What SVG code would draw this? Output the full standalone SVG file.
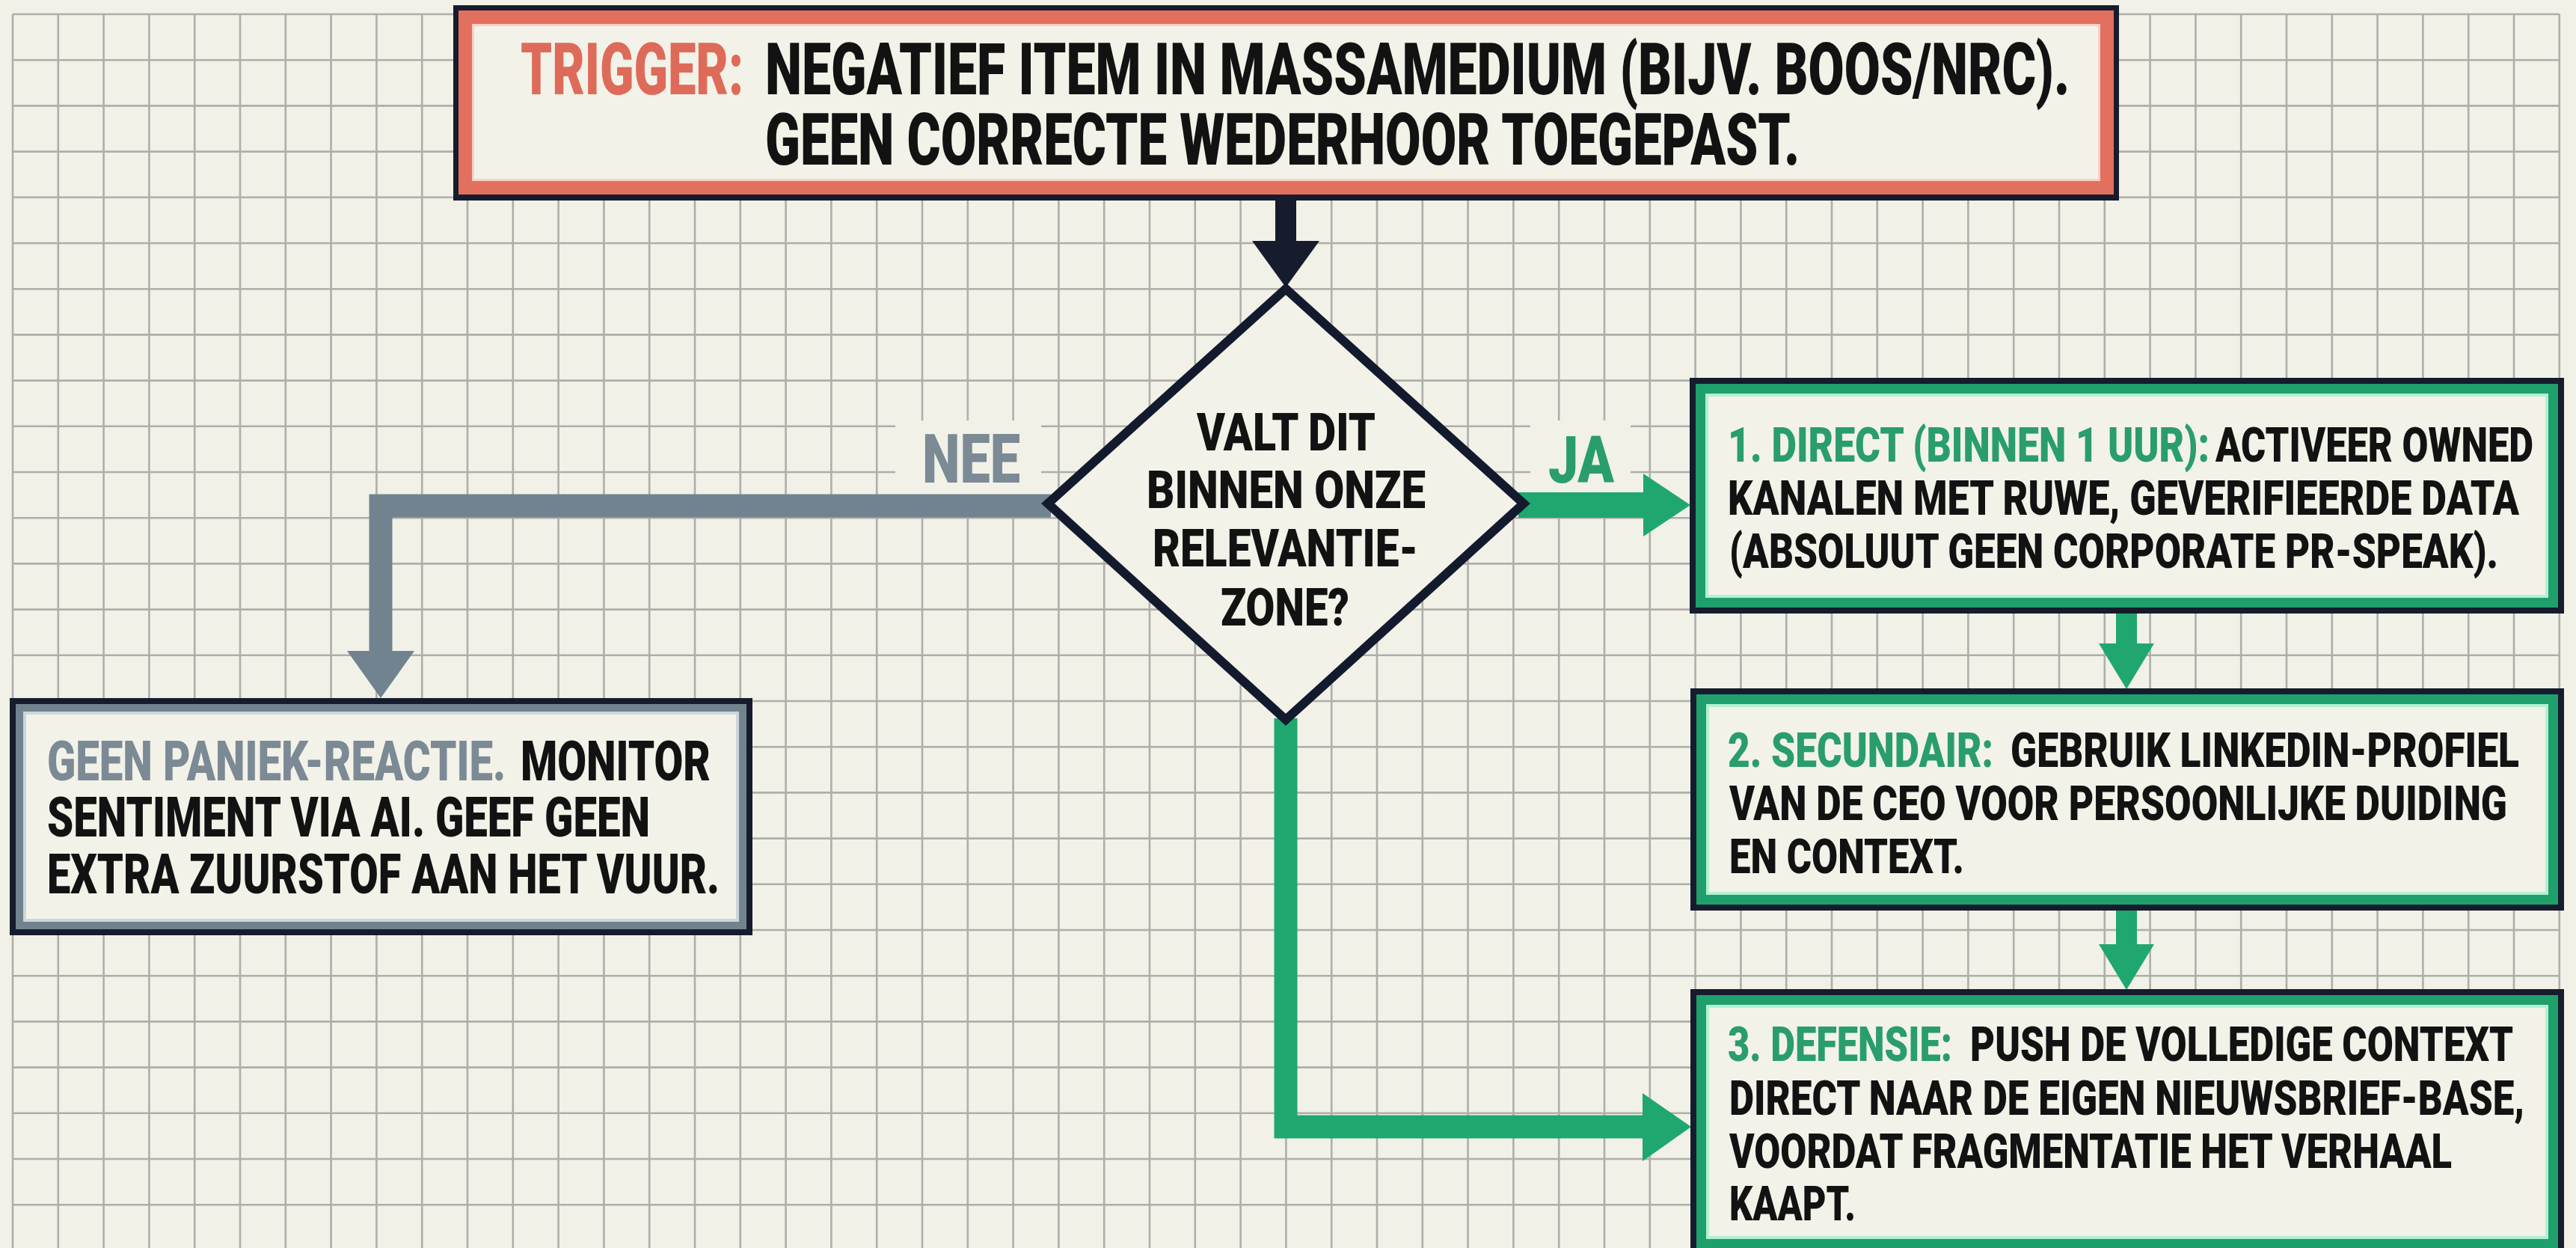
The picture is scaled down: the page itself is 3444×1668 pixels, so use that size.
<svg xmlns="http://www.w3.org/2000/svg" width="3444" height="1668" viewBox="0 0 3444 1668">
<style>
.t{font-family:Roboto,"Liberation Sans",sans-serif;font-weight:900;fill:#121212}
.dk{fill:#161c2d}
.cr{fill:#e2705e}
.pk{fill:#f6d0c6}
.gr{fill:#1f9f6c}
.mi{fill:#b2f0d2}
.sl{fill:#71838f}
.lg{fill:#cdd5dc}
.bg{fill:#f3f2e8}
.lc{fill:#de6b59}
.lgr{fill:#2a9d6d}
.lsl{fill:#7b8a95}
.grid{stroke:#aeaeaa;stroke-width:2.6;fill:none}
</style>
<rect x="0" y="0" width="3444" height="1668" fill="#f1f1e7"/>
<g id="grid">
<path class="grid" d="M17 19V1668M77.8 19V1668M138.6 19V1668M199.4 19V1668M260.2 19V1668M321 19V1668M381.8 19V1668M442.6 19V1668M503.4 19V1668M564.2 19V1668M625 19V1668M685.8 19V1668M746.6 19V1668M807.4 19V1668M868.2 19V1668M929 19V1668M989.8 19V1668M1050.6 19V1668M1111.4 19V1668M1172.2 19V1668M1233 19V1668M1293.8 19V1668M1354.6 19V1668M1415.4 19V1668M1476.2 19V1668M1537 19V1668M1597.8 19V1668M1658.6 19V1668M1719.4 19V1668M1780.2 19V1668M1841 19V1668M1901.8 19V1668M1962.6 19V1668M2023.4 19V1668M2084.2 19V1668M2145 19V1668M2205.8 19V1668M2266.6 19V1668M2327.4 19V1668M2388.2 19V1668M2449 19V1668M2509.8 19V1668M2570.6 19V1668M2631.4 19V1668M2692.2 19V1668M2753 19V1668M2813.8 19V1668M2874.6 19V1668M2935.4 19V1668M2996.2 19V1668M3057 19V1668M3117.8 19V1668M3178.6 19V1668M3239.4 19V1668M3300.2 19V1668M3361 19V1668M3421.8 19V1668"/>
<path class="grid" d="M17 19H3422M17 80.2H3422M17 141.4H3422M17 202.6H3422M17 263.8H3422M17 325H3422M17 386.2H3422M17 447.4H3422M17 508.6H3422M17 569.8H3422M17 631H3422M17 692.2H3422M17 753.4H3422M17 814.6H3422M17 875.8H3422M17 937H3422M17 998.2H3422M17 1059.4H3422M17 1120.6H3422M17 1181.8H3422M17 1243H3422M17 1304.2H3422M17 1365.4H3422M17 1426.6H3422M17 1487.8H3422M17 1549H3422M17 1610.2H3422"/>
<rect x="1197" y="562" width="195" height="100" fill="#f1f1e7"/>
<rect x="2046" y="562" width="134" height="120" fill="#f1f1e7"/>
</g>
<g id="connectors">
<rect x="1705" y="262" width="28" height="64" class="dk"/>
<polygon points="1674,322 1764,322 1719,384" class="dk"/>
<path d="M1405 676H509V874" fill="none" stroke="#71838f" stroke-width="31" stroke-linejoin="miter"/>
<polygon points="464,870 554,870 509,933" class="sl"/>
<path d="M2030 675H2202" fill="none" stroke="#1fa76f" stroke-width="34"/>
<polygon points="2197,633 2197,717 2260,675" fill="#1fa76f"/>
<path d="M1719 960V1506H2200" fill="none" stroke="#1fa76f" stroke-width="31" stroke-linejoin="miter"/>
<polygon points="2196,1461 2196,1552 2261,1506" fill="#1fa76f"/>
<path d="M2843 815V866" fill="none" stroke="#1fa76f" stroke-width="28"/>
<polygon points="2806,860 2880,860 2843,921" fill="#1fa76f"/>
<path d="M2843 1212V1268" fill="none" stroke="#1fa76f" stroke-width="28"/>
<polygon points="2806,1262 2880,1262 2843,1323" fill="#1fa76f"/>
<text class="t lsl" x="1233" y="645" font-size="91" textLength="131" lengthAdjust="spacingAndGlyphs">NEE</text>
<text class="t lgr" x="2070" y="645" font-size="88" textLength="88" lengthAdjust="spacingAndGlyphs">JA</text>
</g>
<g id="trigger">
<rect x="606" y="7" width="2227" height="261" class="dk"/>
<rect x="613" y="14" width="2213" height="246" class="cr"/>
<rect x="631" y="32" width="2177" height="210" class="pk"/>
<rect x="634" y="35" width="2171" height="204" class="bg"/>
<text class="t lc" x="696" y="126" font-size="96" textLength="298" lengthAdjust="spacingAndGlyphs">TRIGGER:</text>
<text class="t" x="1023" y="126" font-size="96" textLength="1744" lengthAdjust="spacingAndGlyphs">NEGATIEF ITEM IN MASSAMEDIUM (BIJV. BOOS/NRC).</text>
<text class="t" x="1023" y="220" font-size="96" textLength="1383" lengthAdjust="spacingAndGlyphs">GEEN CORRECTE WEDERHOOR TOEGEPAST.</text>
</g>
<g id="decision">
<polygon points="1719,386 2037,673 1719,962 1401,673" fill="#f3f2e8" stroke="#141a2e" stroke-width="12" stroke-linejoin="miter"/>
<text class="t" x="1600" y="602" font-size="70" textLength="239" lengthAdjust="spacingAndGlyphs">VALT DIT</text>
<text class="t" x="1533" y="679" font-size="70" textLength="373" lengthAdjust="spacingAndGlyphs">BINNEN ONZE</text>
<text class="t" x="1541" y="757" font-size="70" textLength="355" lengthAdjust="spacingAndGlyphs">RELEVANTIE-</text>
<text class="t" x="1632" y="836" font-size="70" textLength="172" lengthAdjust="spacingAndGlyphs">ZONE?</text>
</g>
<g id="nee-box">
<rect x="13" y="933" width="993" height="317" class="dk"/>
<rect x="21" y="941" width="977" height="301" class="sl"/>
<rect x="31" y="951" width="957" height="281" class="lg"/>
<rect x="35" y="955" width="949" height="273" class="bg"/>
<text class="t lsl" x="63" y="1043" font-size="74" textLength="613" lengthAdjust="spacingAndGlyphs">GEEN PANIEK-REACTIE.</text>
<text class="t" x="696" y="1043" font-size="74" textLength="254" lengthAdjust="spacingAndGlyphs">MONITOR</text>
<text class="t" x="63" y="1118" font-size="74" textLength="806" lengthAdjust="spacingAndGlyphs">SENTIMENT VIA AI. GEEF GEEN</text>
<text class="t" x="63" y="1194" font-size="74" textLength="899" lengthAdjust="spacingAndGlyphs">EXTRA ZUURSTOF AAN HET VUUR.</text>
</g>
<g id="step1">
<rect x="2259" y="505" width="1169" height="315" class="dk"/>
<rect x="2267" y="513" width="1153" height="299" class="gr"/>
<rect x="2280" y="526" width="1127" height="273" class="mi"/>
<rect x="2284" y="530" width="1119" height="265" class="bg"/>
<text class="t lgr" x="2310" y="617" font-size="64" textLength="644" lengthAdjust="spacingAndGlyphs">1. DIRECT (BINNEN 1 UUR):</text>
<text class="t" x="2962" y="617" font-size="64" textLength="425" lengthAdjust="spacingAndGlyphs">ACTIVEER OWNED</text>
<text class="t" x="2310" y="688" font-size="64" textLength="1058" lengthAdjust="spacingAndGlyphs">KANALEN MET RUWE, GEVERIFIEERDE DATA</text>
<text class="t" x="2312" y="759" font-size="64" textLength="1028" lengthAdjust="spacingAndGlyphs">(ABSOLUUT GEEN CORPORATE PR-SPEAK).</text>
</g>
<g id="step2">
<rect x="2260" y="920" width="1168" height="297" class="dk"/>
<rect x="2268" y="928" width="1152" height="281" class="gr"/>
<rect x="2281" y="941" width="1126" height="255" class="mi"/>
<rect x="2285" y="945" width="1118" height="247" class="bg"/>
<text class="t lgr" x="2310" y="1025" font-size="64" textLength="355" lengthAdjust="spacingAndGlyphs">2. SECUNDAIR:</text>
<text class="t" x="2688" y="1025" font-size="64" textLength="680" lengthAdjust="spacingAndGlyphs">GEBRUIK LINKEDIN-PROFIEL</text>
<text class="t" x="2312" y="1096" font-size="64" textLength="1040" lengthAdjust="spacingAndGlyphs">VAN DE CEO VOOR PERSOONLIJKE DUIDING</text>
<text class="t" x="2312" y="1167" font-size="64" textLength="314" lengthAdjust="spacingAndGlyphs">EN CONTEXT.</text>
</g>
<g id="step3">
<rect x="2260" y="1322" width="1168" height="356" class="dk"/>
<rect x="2268" y="1330" width="1152" height="340" class="gr"/>
<rect x="2281" y="1343" width="1126" height="313" class="mi"/>
<rect x="2285" y="1347" width="1118" height="305" class="bg"/>
<text class="t lgr" x="2310" y="1418" font-size="64" textLength="300" lengthAdjust="spacingAndGlyphs">3. DEFENSIE:</text>
<text class="t" x="2634" y="1418" font-size="64" textLength="726" lengthAdjust="spacingAndGlyphs">PUSH DE VOLLEDIGE CONTEXT</text>
<text class="t" x="2312" y="1490" font-size="64" textLength="1063" lengthAdjust="spacingAndGlyphs">DIRECT NAAR DE EIGEN NIEUWSBRIEF-BASE,</text>
<text class="t" x="2312" y="1561" font-size="64" textLength="966" lengthAdjust="spacingAndGlyphs">VOORDAT FRAGMENTATIE HET VERHAAL</text>
<text class="t" x="2312" y="1631" font-size="64" textLength="169" lengthAdjust="spacingAndGlyphs">KAAPT.</text>
</g>
</svg>
